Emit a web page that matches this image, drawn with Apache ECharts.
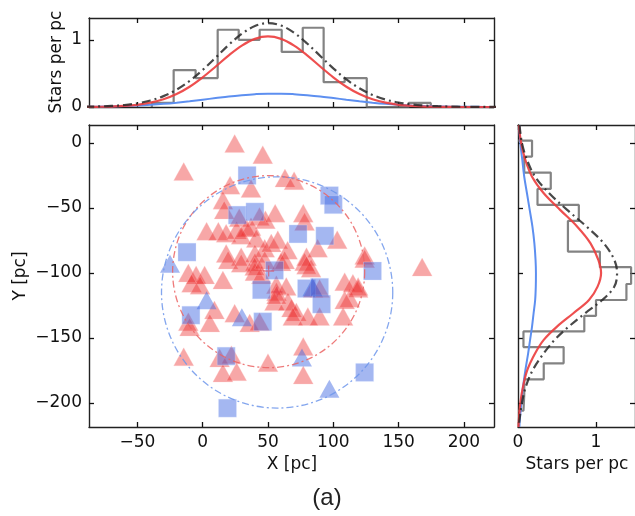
<!DOCTYPE html>
<html>
<head>
<meta charset="utf-8">
<script src="https://cdn.jsdelivr.net/npm/echarts@6/dist/echarts.min.js"></script>
<style>
  html, body { margin: 0; padding: 0; background: #fff; }
  #chart { width: 635px; height: 516px; }
</style>
</head>
<body>
<div id="chart"></div>
<script>
// ---- data ----
// scatter: [X, Y] in pc
const redTriangles = [
  [24.5, -0.5], [46, -9], [-14.5, -22], [63, -27], [70, -29], [21, -32.5], [37, -35],
  [15.5, -44], [16.5, -51.5], [28, -57.5], [43.5, -56.5], [48, -59], [55.5, -54], [77, -54],
  [78, -60.5], [37, -64.5], [3, -68], [12, -68], [18, -69.5], [26, -67], [33.5, -65.5],
  [29.5, -71], [41, -73.5], [18, -85], [29.5, -87.5], [40, -85], [47.5, -81], [52.5, -77],
  [57.5, -74.5], [65, -82.5], [88, -81], [103, -74.5], [79.5, -87.5], [124, -86.5], [168, -95.5],
  [-11, -100], [-5, -101.5], [1.5, -101.5], [-8.5, -108], [-2, -109.5], [15.5, -105.5],
  [19.5, -90], [29.5, -92.5], [40, -91.5], [40, -99], [45, -101.5], [39.8, -95], [47.5, -90],
  [60, -91.5], [62.8, -90], [78, -91.3], [83, -96.4], [79.5, -94],
  [56.5, -114.5], [55, -122], [56.4, -109], [64, -110.5], [65.3, -122], [68, -127], [71.7, -130],
  [69, -133.5], [80.5, -133.5], [89.5, -133.5], [107.5, -133.5], [112.5, -119.5], [108.7, -120.8],
  [108.7, -106.7], [115, -108], [119, -110.5], [119, -112], [124, -89], [84.5, -112], [89.5, -112],
  [-11, -137.5], [-10, -141.5], [9, -128.5], [5.5, -138.5], [24.5, -131], [36, -138.5],
  [43.5, -137.5], [56.5, -117],
  [-14.5, -164.5], [13, -165.5], [22, -163], [15.5, -177], [26, -176], [50, -169],
  [77, -156.5], [77, -178.5]
];
const blueSquares = [
  [34, -25], [26.5, -55.5], [40, -53], [-12, -84], [97, -40.5], [100, -47.5], [73, -70],
  [93.5, -71.5], [-9, -132.5], [18, -164], [19, -204], [45, -113], [46, -137.5], [55, -98],
  [79.5, -112], [89.5, -111], [91, -124], [130, -98.5], [124, -176.5]
];
const blueTriangles = [
  [-25, -93], [3, -121], [30, -134], [84, -111], [76, -165], [97, -189]
];
const centres = [[50.5, -98.5], [57, -114.5]];
// circles: [centre X, centre Y, radius]
const redCircle = [50.5, -99, 73.5];
const blueCircle = [57, -115, 88.5];

// top histogram (X): bin edges and heights, stars per pc
const xEdges = [-38.9, -22.2, -5.4, 11.5, 27.6, 43.6, 60.5, 76.6, 92.6, 108.7, 125.6, 141.6, 157.7, 174.6];
const xCounts = [0.06, 0.55, 0.43, 1.15, 1.0, 1.15, 0.82, 1.18, 0.37, 0.43, 0, 0, 0.06];
// top fitted profiles
const profX = [-90, -80, -70, -60, -50, -40, -30, -20, -10, 0, 10, 20, 30, 40, 50, 60, 70, 80, 90,
  100, 110, 120, 130, 140, 150, 160, 170, 180, 190, 200, 210, 220, 230];
const profXRed = [0.001, 0.003, 0.007, 0.016, 0.033, 0.064, 0.115, 0.193, 0.302, 0.442, 0.603, 0.769,
  0.914, 1.014, 1.05, 1.014, 0.914, 0.769, 0.603, 0.442, 0.302, 0.193, 0.115, 0.064, 0.033, 0.016,
  0.007, 0.003, 0.001, 0, 0, 0, 0];
const profXBlue = [0.003, 0.005, 0.009, 0.014, 0.022, 0.033, 0.047, 0.065, 0.086, 0.109, 0.133, 0.157,
  0.176, 0.191, 0.199, 0.199, 0.191, 0.176, 0.157, 0.133, 0.109, 0.086, 0.065, 0.047, 0.033, 0.022,
  0.014, 0.009, 0.005, 0.003, 0.002, 0.001, 0.001];
const profXAll = [0.004, 0.008, 0.016, 0.03, 0.055, 0.097, 0.162, 0.258, 0.388, 0.551, 0.736, 0.926,
  1.09, 1.205, 1.249, 1.213, 1.105, 0.945, 0.76, 0.575, 0.411, 0.279, 0.18, 0.111, 0.066, 0.038,
  0.021, 0.012, 0.006, 0.0035, 0.002, 0.001, 0.001];

// right histogram (Y)
const yEdges = [1.8, -10.5, -22.8, -35.4, -47.7, -60, -72, -83.6, -95.6, -108.5, -120.8, -133, -145,
  -157, -169.5, -181.8, -193.8, -206];
const yCounts = [0.18, 0.08, 0.42, 0.25, 0.78, 0.64, 0.64, 1.05, 1.45, 1.39, 1.0, 0.85, 0.07, 0.585,
  0.33, 0.08, 0.07];
const profY = [13.8, 0, -13, -26, -38.7, -51.5, -64.4, -77.2, -90, -100, -110.5, -120.8, -131, -141.3,
  -151.5, -161.8, -174.6, -187.5, -200, -214, -218.5];
const profYRed = [0.012, 0.04, 0.094, 0.18, 0.33, 0.54, 0.76, 0.93, 1.03, 1.065, 1.02, 0.91, 0.71, 0.5,
  0.33, 0.22, 0.12, 0.064, 0.03, 0.01, 0.007];
const profYBlue = [0.016, 0.03, 0.055, 0.08, 0.115, 0.15, 0.185, 0.21, 0.225, 0.23, 0.228, 0.22, 0.2,
  0.18, 0.155, 0.13, 0.095, 0.065, 0.043, 0.022, 0.018];
const profYAll = [0.02, 0.05, 0.115, 0.22, 0.4, 0.63, 0.88, 1.1, 1.235, 1.27, 1.235, 1.08, 0.86, 0.65,
  0.47, 0.33, 0.19, 0.1, 0.05, 0.017, 0.012];

const xTicks = [-50, 0, 50, 100, 150, 200];
const yTicks = [0, -50, -100, -150, -200];
const histTicks = [0, 1];

// ---- helpers ----
const FONT = 'DejaVu Sans';
const minus = v => (v < 0 ? '\u2212' + Math.abs(v) : String(v));

function stepPoints(edges, counts, vertical) {
  const pts = [[edges[0], 0]];
  for (let i = 0; i < counts.length; i++) {
    pts.push([edges[i], counts[i]]);
    pts.push([edges[i + 1], counts[i]]);
  }
  pts.push([edges[edges.length - 1], 0]);
  return vertical ? pts.map(p => [p[1], p[0]]) : pts;
}
const zip = (a, b) => a.map((v, i) => [v, b[i]]);

function axis(opts, ticks, showLabel, position) {
  return Object.assign({
    type: 'value',
    position: position,
    axisLine: { show: true, onZero: false, lineStyle: { color: '#222', width: 1.4 } },
    axisTick: { show: true, inside: true, length: 5, customValues: ticks, lineStyle: { color: '#111', width: 1.3 } },
    axisLabel: showLabel
      ? { show: true, customValues: ticks, formatter: minus, fontFamily: FONT, fontSize: 17, color: '#111', margin: 7 }
      : { show: false },
    splitLine: { show: false }
  }, opts);
}

const circleSeries = (c, color) => ({
  type: 'custom',
  xAxisIndex: 2, yAxisIndex: 2,
  z: 5,
  silent: true,
  data: [c],
  renderItem: (params, api) => {
    const p = api.coord([api.value(0), api.value(1)]);
    const r = api.size([api.value(2), 0])[0];
    return {
      type: 'circle',
      shape: { cx: p[0], cy: p[1], r: r },
      style: { fill: 'none', stroke: color, lineWidth: 1.3, lineDash: [7, 3, 2, 3] }
    };
  }
});

const curve = (data, xi, yi, color, width, dash) => ({
  type: 'line', xAxisIndex: xi, yAxisIndex: yi, data: data, smooth: 0.35,
  showSymbol: false, silent: true, z: 4,
  lineStyle: { color: color, width: width, type: dash || 'solid' }
});
const hist = (data, xi, yi) => ({
  type: 'line', xAxisIndex: xi, yAxisIndex: yi, data: data, showSymbol: false, silent: true, z: 3,
  lineStyle: { color: 'rgba(100,100,100,0.8)', width: 2.2 }
});

const chart = echarts.init(document.getElementById('chart'));
chart.setOption({
  animation: false,
  grid: [
    { left: 89, top: 18, width: 405, height: 89 },
    { left: 89, top: 125, width: 405, height: 302 },
    { left: 518, top: 125, width: 117, height: 302 }
  ],
  xAxis: [
    axis({ gridIndex: 0, min: -87, max: 223 }, xTicks, false, 'bottom'),
    axis({ gridIndex: 0, min: -87, max: 223 }, xTicks, false, 'top'),
    axis({ gridIndex: 1, min: -87, max: 223 }, xTicks, true, 'bottom'),
    axis({ gridIndex: 1, min: -87, max: 223 }, xTicks, false, 'top'),
    axis({ gridIndex: 2, min: 0, max: 1.5 }, histTicks, true, 'bottom'),
    axis({ gridIndex: 2, min: 0, max: 1.5 }, histTicks, false, 'top')
  ],
  yAxis: [
    axis({ gridIndex: 0, min: 0, max: 1.325 }, histTicks, true, 'left'),
    axis({ gridIndex: 0, min: 0, max: 1.325 }, histTicks, false, 'right'),
    axis({ gridIndex: 1, min: -218.5, max: 13.8 }, yTicks, true, 'left'),
    axis({ gridIndex: 1, min: -218.5, max: 13.8 }, yTicks, false, 'right'),
    axis({ gridIndex: 2, min: -218.5, max: 13.8 }, yTicks, false, 'left'),
    axis({ gridIndex: 2, min: -218.5, max: 13.8 }, yTicks, false, 'right')
  ],
  graphic: [
    { type: 'text', x: 57, y: 62, rotation: Math.PI / 2,
      style: { text: 'Stars per pc', font: '17px "DejaVu Sans"', fill: '#111', align: 'center', verticalAlign: 'middle' } },
    { type: 'text', x: 21, y: 276, rotation: Math.PI / 2,
      style: { text: 'Y [pc]', font: '17px "DejaVu Sans"', fill: '#111', align: 'center', verticalAlign: 'middle' } },
    { type: 'text', x: 292, y: 465,
      style: { text: 'X [pc]', font: '17px "DejaVu Sans"', fill: '#111', align: 'center', verticalAlign: 'middle' } },
    { type: 'text', x: 577, y: 465,
      style: { text: 'Stars per pc', font: '17px "DejaVu Sans"', fill: '#111', align: 'center', verticalAlign: 'middle' } },
    { type: 'text', x: 327, y: 498,
      style: { text: '(a)', font: '24px "Liberation Sans"', fill: '#222', align: 'center', verticalAlign: 'middle' } }
  ],
  series: [
    // top: X distribution
    hist(stepPoints(xEdges, xCounts, false), 0, 0),
    curve(zip(profX, profXBlue), 0, 0, '#5d8ff0', 2),
    curve(zip(profX, profXRed), 0, 0, 'rgba(236,60,60,0.9)', 2.2),
    curve(zip(profX, profXAll), 0, 0, 'rgba(40,40,40,0.85)', 2.2, [9, 4, 2, 4]),

    // main scatter
    {
      type: 'scatter', xAxisIndex: 2, yAxisIndex: 2, data: redTriangles, z: 2,
      symbol: 'triangle', symbolSize: [20, 18],
      itemStyle: { color: 'rgba(235,35,35,0.5)', borderColor: 'rgba(255,200,200,0.4)', borderWidth: 0.8 }
    },
    {
      type: 'scatter', xAxisIndex: 2, yAxisIndex: 2, data: blueSquares, z: 3,
      symbol: 'rect', symbolSize: 18,
      itemStyle: { color: 'rgba(65,105,225,0.6)', borderColor: 'rgba(220,230,255,0.5)', borderWidth: 0.8 }
    },
    {
      type: 'scatter', xAxisIndex: 2, yAxisIndex: 2, data: blueTriangles, z: 3,
      symbol: 'triangle', symbolSize: [20, 18],
      itemStyle: { color: 'rgba(65,105,225,0.6)' }
    },
    {
      type: 'scatter', xAxisIndex: 2, yAxisIndex: 2, data: centres, z: 6,
      symbol: 'path://M4.4,0h1.2v4.4h4.4v1.2h-4.4v4.4h-1.2v-4.4h-4.4v-1.2h4.4z', symbolSize: 11,
      itemStyle: { color: 'rgba(225,70,90,0.75)' }
    },
    circleSeries(redCircle, 'rgba(235,100,100,0.85)'),
    circleSeries(blueCircle, 'rgba(110,150,235,0.85)'),

    // right: Y distribution
    hist(stepPoints(yEdges, yCounts, true), 4, 4),
    curve(zip(profYBlue, profY), 4, 4, '#5d8ff0', 2),
    curve(zip(profYRed, profY), 4, 4, 'rgba(236,60,60,0.9)', 2.2),
    curve(zip(profYAll, profY), 4, 4, 'rgba(40,40,40,0.85)', 2.2, [9, 4, 2, 4])
  ]
});
</script>
</body>
</html>
